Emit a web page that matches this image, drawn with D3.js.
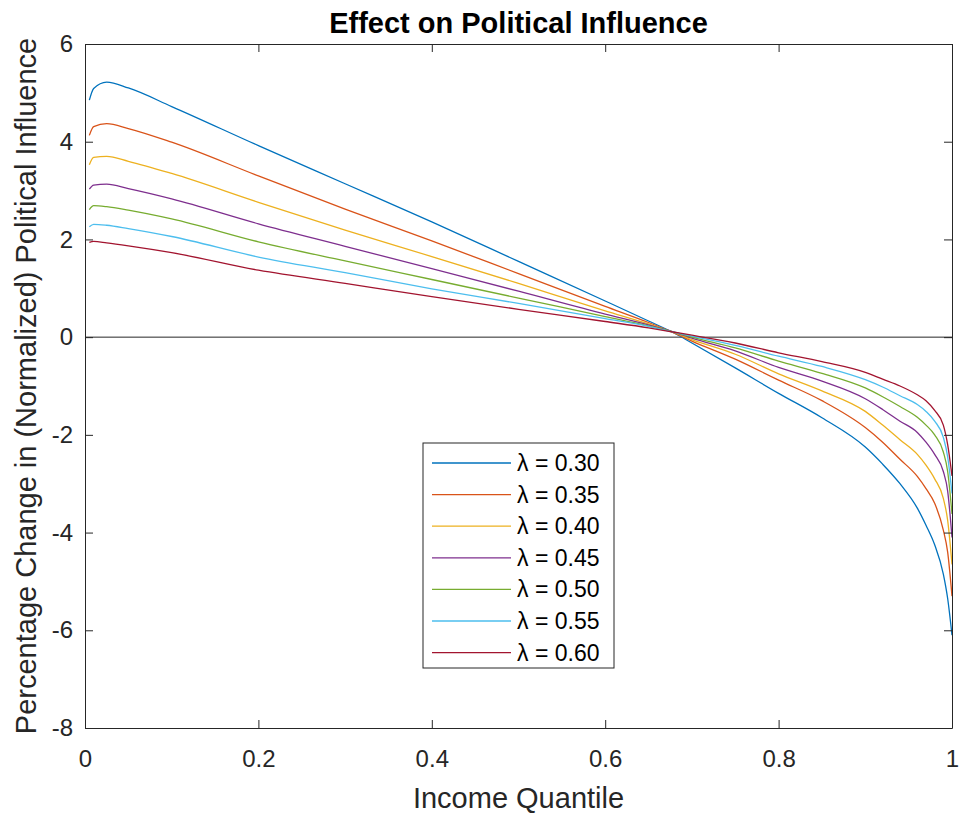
<!DOCTYPE html>
<html>
<head>
<meta charset="utf-8" />
<script src="https://cdn.jsdelivr.net/npm/d3@7"></script>
<style>
	body { margin: 0; background: #fff; }
	svg text { font-family: "Liberation Sans", Arial, sans-serif; fill: #262626; }
	.axis text { font-size: 24px; }
	.axis path, .axis line { stroke: #262626; }
</style>
</head>
<body>
<script>
	var width = 961, height = 818;
	var margin = {left: 85, top: 44, right: 9, bottom: 90};

	// income quantile grid
	var quantiles = [0.005, 0.01, 0.025, 0.05, 0.1, 0.2, 0.3, 0.4, 0.5, 0.6, 0.65, 0.68, 0.7,
		0.75, 0.8, 0.85, 0.9, 0.92, 0.94, 0.96, 0.97, 0.98, 0.99, 0.995, 1.0];

	var lambda030 = [4.85, 5.09, 5.22, 5.10, 4.72, 3.92, 3.14, 2.36, 1.55, 0.74, 0.33, 0.08, -0.12,
		-0.63, -1.15, -1.65, -2.25, -2.60, -3.00, -3.50, -3.85, -4.25, -4.85, -5.35, -6.10];
	var lambda035 = [4.13, 4.31, 4.37, 4.27, 3.99, 3.30, 2.62, 1.97, 1.30, 0.63, 0.30, 0.08, -0.08,
		-0.45, -0.88, -1.30, -1.85, -2.15, -2.50, -2.85, -3.10, -3.40, -3.95, -4.40, -5.30];
	var lambda040 = [3.53, 3.68, 3.70, 3.60, 3.35, 2.76, 2.19, 1.65, 1.10, 0.54, 0.27, 0.09, -0.05,
		-0.35, -0.75, -1.10, -1.52, -1.80, -2.10, -2.40, -2.62, -2.90, -3.30, -3.75, -4.65];
	var lambda045 = [3.03, 3.11, 3.13, 3.04, 2.83, 2.32, 1.86, 1.40, 0.94, 0.47, 0.25, 0.10, -0.02,
		-0.28, -0.62, -0.90, -1.26, -1.48, -1.72, -1.95, -2.15, -2.40, -2.75, -3.15, -4.10];
	var lambda050 = [2.61, 2.69, 2.67, 2.60, 2.42, 1.95, 1.56, 1.18, 0.80, 0.42, 0.23, 0.10, 0.00,
		-0.22, -0.49, -0.74, -1.04, -1.22, -1.42, -1.64, -1.80, -2.00, -2.35, -2.75, -3.62];
	var lambda055 = [2.26, 2.31, 2.29, 2.22, 2.06, 1.64, 1.32, 0.99, 0.69, 0.38, 0.22, 0.10, 0.02,
		-0.17, -0.39, -0.60, -0.87, -1.02, -1.20, -1.38, -1.52, -1.72, -2.05, -2.45, -3.20];
	var lambda060 = [1.94, 1.96, 1.93, 1.87, 1.73, 1.37, 1.10, 0.83, 0.57, 0.32, 0.19, 0.10, 0.04,
		-0.12, -0.32, -0.50, -0.72, -0.86, -1.00, -1.18, -1.30, -1.50, -1.80, -2.20, -2.84];

	var seriesNames = ["\u03bb = 0.30", "\u03bb = 0.35", "\u03bb = 0.40", "\u03bb = 0.45",
		"\u03bb = 0.50", "\u03bb = 0.55", "\u03bb = 0.60"];
	var seriesValues = [lambda030, lambda035, lambda040, lambda045, lambda050, lambda055, lambda060];
	var colors = ["#0072BD", "#D95319", "#EDB120", "#7E2F8E", "#77AC30", "#4DBEEE", "#A2142F"];

	var xTicks = [0, 0.2, 0.4, 0.6, 0.8, 1];
	var yTicks = [-8, -6, -4, -2, 0, 2, 4, 6];

	var w = width - margin.left - margin.right;
	var h = height - margin.top - margin.bottom;

	var svg = d3.select("body").append("svg")
		.attr("width", width)
		.attr("height", height);

	var g = svg.append("g")
		.attr("transform", "translate(" + margin.left + "," + margin.top + ")");

	var x = d3.scaleLinear().domain([0, 1]).range([0, w]);
	var y = d3.scaleLinear().domain([-8, 6]).range([h, 0]);

	// zero reference line
	g.append("line")
		.attr("x1", 0).attr("x2", w)
		.attr("y1", y(0)).attr("y2", y(0))
		.attr("stroke", "#262626").attr("stroke-width", 1);

	var line = d3.line()
		.x(function(d) { return x(d[0]); })
		.y(function(d) { return y(d[1]); })
		.curve(d3.curveMonotoneX);

	seriesValues.forEach(function(vals, i) {
		g.append("path")
			.datum(quantiles.map(function(q, j) { return [q, vals[j]]; }))
			.attr("fill", "none")
			.attr("stroke", colors[i])
			.attr("stroke-width", 1.3)
			.attr("d", line);
	});

	// axes, ticks pointing inwards, box on
	var fmt = function(d) { return String(d); };
	g.append("g").attr("class", "axis")
		.attr("transform", "translate(0," + h + ")")
		.call(d3.axisBottom(x).tickValues(xTicks).tickFormat(fmt).tickSizeInner(-8).tickSizeOuter(0).tickPadding(22));
	g.append("g").attr("class", "axis")
		.call(d3.axisTop(x).tickValues(xTicks).tickFormat("").tickSizeInner(-8).tickSizeOuter(0));
	g.append("g").attr("class", "axis")
		.call(d3.axisLeft(y).tickValues(yTicks).tickFormat(fmt).tickSizeInner(-8).tickSizeOuter(0).tickPadding(12));
	g.append("g").attr("class", "axis")
		.attr("transform", "translate(" + w + ",0)")
		.call(d3.axisRight(y).tickValues(yTicks).tickFormat("").tickSizeInner(-8).tickSizeOuter(0));
	g.selectAll(".axis text").attr("fill", "#262626");

	// title and labels
	svg.append("text")
		.attr("x", margin.left + w / 2).attr("y", 33)
		.attr("text-anchor", "middle")
		.style("font-size", "29px").style("font-weight", "bold").style("fill", "#000")
		.text("Effect on Political Influence");

	svg.append("text")
		.attr("x", margin.left + w / 2).attr("y", 808)
		.attr("text-anchor", "middle")
		.style("font-size", "29px")
		.text("Income Quantile");

	svg.append("text")
		.attr("transform", "translate(36," + (margin.top + h / 2) + ") rotate(-90)")
		.attr("text-anchor", "middle")
		.style("font-size", "29px")
		.text("Percentage Change in (Normalized) Political Influence");

	// legend
	var lg = svg.append("g").attr("transform", "translate(423,443)");
	lg.append("rect")
		.attr("width", 191).attr("height", 225)
		.attr("fill", "#fff").attr("stroke", "#262626").attr("stroke-width", 1);
	seriesNames.forEach(function(name, i) {
		var ry = 20 + i * 31.6;
		lg.append("line")
			.attr("x1", 9).attr("x2", 88)
			.attr("y1", ry).attr("y2", ry)
			.attr("stroke", colors[i]).attr("stroke-width", 1.3);
		lg.append("text")
			.attr("x", 94).attr("y", ry + 8)
			.style("font-size", "23px").style("fill", "#000")
			.text(name);
	});
</script>
</body>
</html>
